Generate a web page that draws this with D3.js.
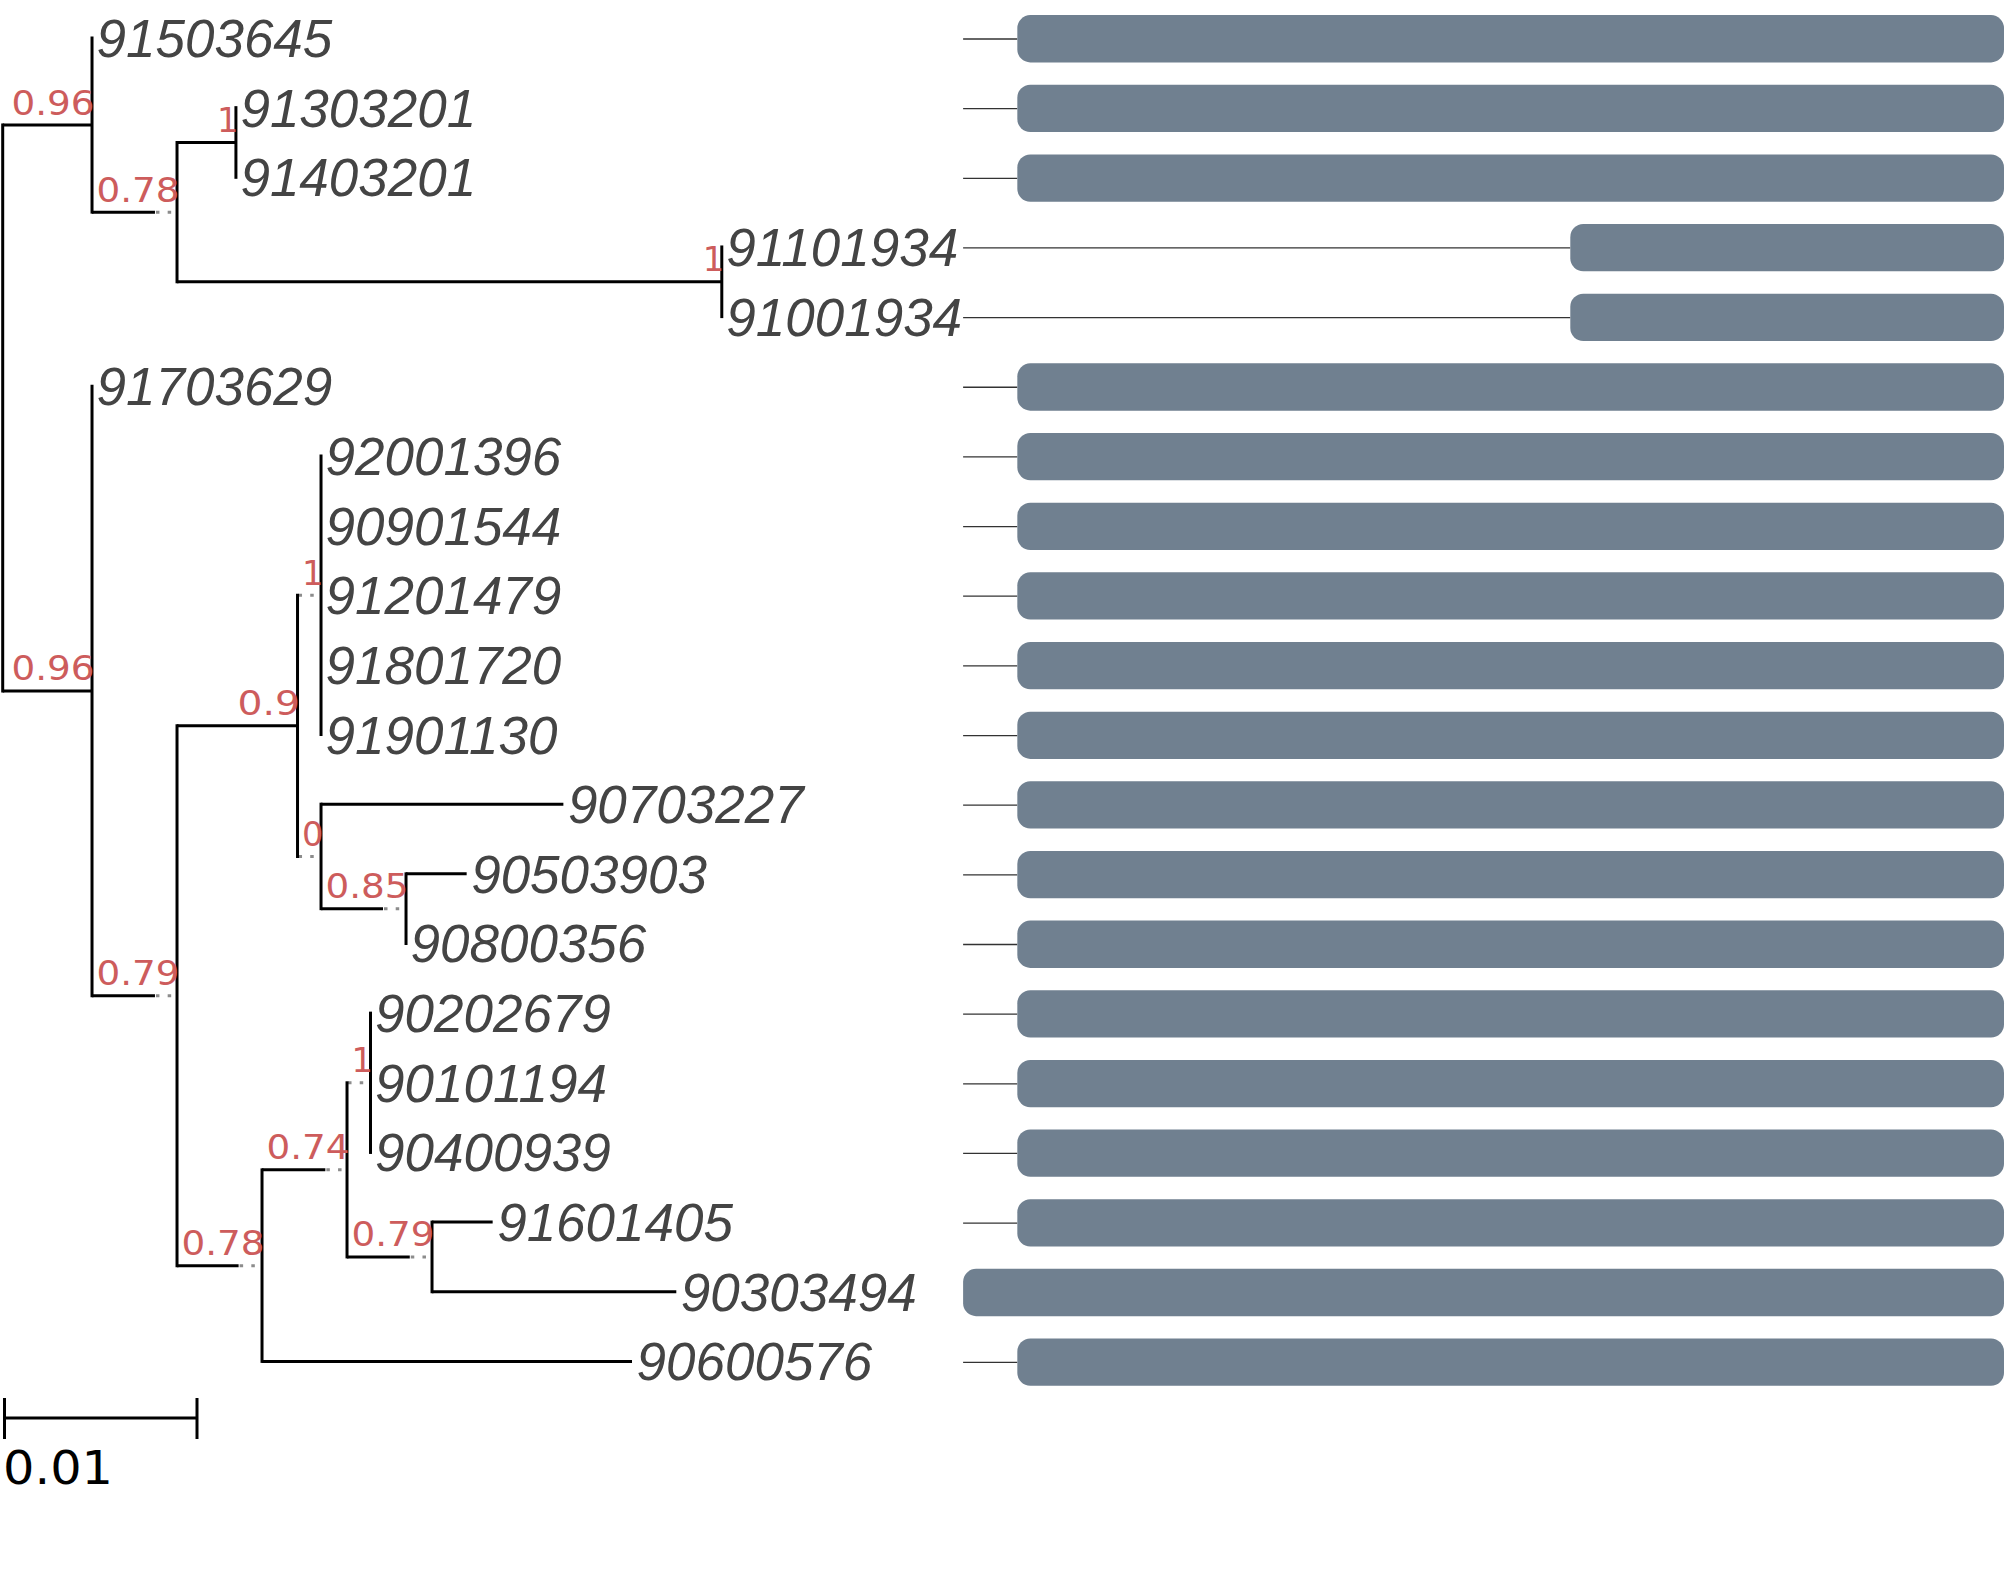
<!DOCTYPE html>
<html>
<head>
<meta charset="utf-8">
<script src="https://cdn.jsdelivr.net/npm/d3@7"></script>
<style>
html, body { margin: 0; padding: 0; background: #ffffff; }
svg { display: block; }
</style>
</head>
<body>
<svg id="chart" width="2007" height="1593"></svg>
<script>
// ---------------- DATA ----------------
// Tree topology (parent links), branch lengths (substitutions/site) and support values
const nodeIds = [
  "root",
  "A", "91503645", "B", "C", "91303201", "91403201", "D", "91101934", "91001934",
  "E", "91703629", "F", "G", "H", "92001396", "90901544", "91201479", "91801720", "91901130",
  "I", "90703227", "J", "90503903", "90800356",
  "K", "L", "M", "90202679", "90101194", "90400939", "N", "91601405", "90303494", "90600576"
];
const nodeParents = [
  "",
  "root", "A", "A", "B", "C", "C", "B", "D", "D",
  "root", "E", "E", "F", "G", "H", "H", "H", "H", "H",
  "G", "I", "I", "J", "J",
  "F", "K", "L", "M", "M", "M", "L", "N", "N", "K"
];
const branchLengths = [
  0,
  0.00464, 0, 0.00327, 0.00306, 0, 0, 0.02830, 0, 0,
  0.00464, 0, 0.00327, 0.00626, 0, 0, 0, 0, 0, 0,
  0, 0.01259, 0.00322, 0.00315, 0,
  0.00320, 0.00329, 0, 0, 0, 0, 0.00326, 0.00315, 0.01269, 0.01922
];
const supportValues = [
  null,
  "0.96", null, "0.78", "1", null, null, "1", null, null,
  "0.96", null, "0.79", "0.9", "1", null, null, null, null, null,
  "0", null, "0.85", null, null,
  "0.78", "0.74", "1", null, null, null, "0.79", null, null, null
];

// Aligned sequence representation (alignment columns), per leaf
const seqLeaves = [
  "91503645", "91303201", "91403201", "91101934", "91001934", "91703629",
  "92001396", "90901544", "91201479", "91801720", "91901130", "90703227",
  "90503903", "90800356", "90202679", "90101194", "90400939", "91601405",
  "90303494", "90600576"
];
const seqStarts = [50, 50, 50, 560, 560, 50, 50, 50, 50, 50, 50, 50, 50, 50, 50, 50, 50, 50, 0, 50];
const seqEnds   = [960, 960, 960, 960, 960, 960, 960, 960, 960, 960, 960, 960, 960, 960, 960, 960, 960, 960, 960, 960];
const alignmentLength = 960;

const scaleBarValue = 0.01;
const scaleBarLabel = "0.01";

// ---------------- LAYOUT ----------------
const svg = d3.select("#chart");

const table = nodeIds.map((id, i) => ({
  id, parent: nodeParents[i] || null, len: branchLengths[i], support: supportValues[i]
}));
const root = d3.stratify().id(d => d.id).parentId(d => d.parent)(table);

const leaves = root.leaves();
const yScale = d3.scaleLinear().domain([0, leaves.length - 1]).range([38, 1361.4]);
const lenScale = d3.scaleLinear().domain([0, scaleBarValue]).range([0, 192.5]);

leaves.forEach((l, i) => { l.y = yScale(i); });
root.eachAfter(n => {
  if (n.children) n.y = (n.children[0].y + n.children[n.children.length - 1].y) / 2;
});

// support label face: each glyph occupies a fixed cell (as rendered in the original)
const supFont = { family: "'DejaVu Sans', sans-serif", size: 34, cell: 20.5 };
const supTextWidth = s => s.length * supFont.cell;

root.eachBefore(n => {
  if (!n.parent) { n.x = 2.7; n.solidEnd = 2.7; return; }
  const bp = lenScale(n.data.len);
  const fw = n.data.support != null ? supTextWidth(n.data.support) + 3 : 0;
  n.solidEnd = n.parent.x + bp;
  n.x = n.parent.x + Math.max(bp, fw);
});

// ---------------- TREE ----------------
const gTree = svg.append("g");

// solid horizontal branches
gTree.selectAll("line.branch")
  .data(root.descendants().filter(n => n.parent && n.solidEnd - n.parent.x > 0.1))
  .join("line").attr("class", "branch")
  .attr("x1", d => d.parent.x).attr("x2", d => d.solidEnd)
  .attr("y1", d => d.y).attr("y2", d => d.y)
  .attr("stroke", "#000").attr("stroke-width", 3);

// dotted extension lines
gTree.selectAll("line.extra")
  .data(root.descendants().filter(n => n.parent && n.x - n.solidEnd > 0.5))
  .join("line").attr("class", "extra")
  .attr("x1", d => d.solidEnd + 1).attr("x2", d => d.x - 1.5)
  .attr("y1", d => d.y).attr("y2", d => d.y)
  .attr("stroke", "#8c8c8c").attr("stroke-width", 3)
  .attr("stroke-dasharray", "3.5,8.2");

// vertical connectors
gTree.selectAll("line.vert")
  .data(root.descendants().filter(n => n.children))
  .join("line").attr("class", "vert")
  .attr("x1", d => d.x).attr("x2", d => d.x)
  .attr("y1", d => d.children[0].y).attr("y2", d => d.children[d.children.length - 1].y)
  .attr("stroke", "#000").attr("stroke-width", 3).attr("stroke-linecap", "square");

// support labels (branch-top, right aligned at node)
gTree.selectAll("text.support")
  .data(root.descendants().filter(n => n.data.support != null))
  .join("text").attr("class", "support")
  .attr("x", d => d.x + 2.5).attr("y", d => d.y - 10.5)
  .attr("text-anchor", "end")
  .attr("font-family", supFont.family).attr("font-size", supFont.size)
  .attr("textLength", d => supTextWidth(d.data.support) + 1)
  .attr("lengthAdjust", "spacingAndGlyphs")
  .attr("fill", "#cd5c5c")
  .text(d => d.data.support);

// leaf names
const leafText = gTree.selectAll("text.leaf")
  .data(leaves)
  .join("text").attr("class", "leaf")
  .attr("x", d => d.x + 4.5).attr("y", d => d.y + 19)
  .attr("font-family", "'Liberation Sans', Arial, sans-serif")
  .attr("font-style", "italic")
  .attr("font-size", 53)
  .attr("fill", "#444444")
  .text(d => d.data.id);

let alignStart = 0;
leafText.each(function(d) {
  alignStart = Math.max(alignStart, d.x + 4.5 + this.getComputedTextLength());
});
alignStart += 1;

// ---------------- ALIGNED SEQUENCE BARS ----------------
const seqX = d3.scaleLinear().domain([0, alignmentLength]).range([alignStart, 2004]);
const leafY = new Map(leaves.map(l => [l.data.id, l.y]));
const seqData = seqLeaves.map((name, i) => ({ name, start: seqStarts[i], end: seqEnds[i], y: leafY.get(name) }));

const gSeq = svg.append("g");
gSeq.selectAll("line.gap")
  .data(seqData.filter(d => d.start > 0))
  .join("line").attr("class", "gap")
  .attr("x1", seqX(0)).attr("x2", d => seqX(d.start))
  .attr("y1", d => d.y + 1).attr("y2", d => d.y + 1)
  .attr("stroke", "#333").attr("stroke-width", 1.3);

gSeq.selectAll("rect.seq")
  .data(seqData)
  .join("rect").attr("class", "seq")
  .attr("x", d => seqX(d.start))
  .attr("width", d => seqX(d.end) - seqX(d.start))
  .attr("y", d => d.y + 0.7 - 23.6)
  .attr("height", 47.3)
  .attr("rx", 13).attr("ry", 13)
  .attr("fill", "#708090");

// ---------------- SCALE BAR ----------------
const gScale = svg.append("g");
const sbX0 = 4.5, sbY = 1418;
const sbX1 = sbX0 + lenScale(scaleBarValue);
gScale.append("line").attr("x1", sbX0).attr("x2", sbX1).attr("y1", sbY).attr("y2", sbY)
  .attr("stroke", "#000").attr("stroke-width", 3);
gScale.selectAll("line.tick").data([sbX0, sbX1]).join("line").attr("class", "tick")
  .attr("x1", d => d).attr("x2", d => d).attr("y1", sbY - 20).attr("y2", sbY + 21)
  .attr("stroke", "#000").attr("stroke-width", 3);
gScale.append("text")
  .attr("x", 3).attr("y", 1484)
  .attr("font-family", "'DejaVu Sans', sans-serif").attr("font-size", 46)
  .attr("textLength", 110).attr("lengthAdjust", "spacingAndGlyphs")
  .attr("fill", "#000")
  .text(scaleBarLabel);
</script>
</body>
</html>
